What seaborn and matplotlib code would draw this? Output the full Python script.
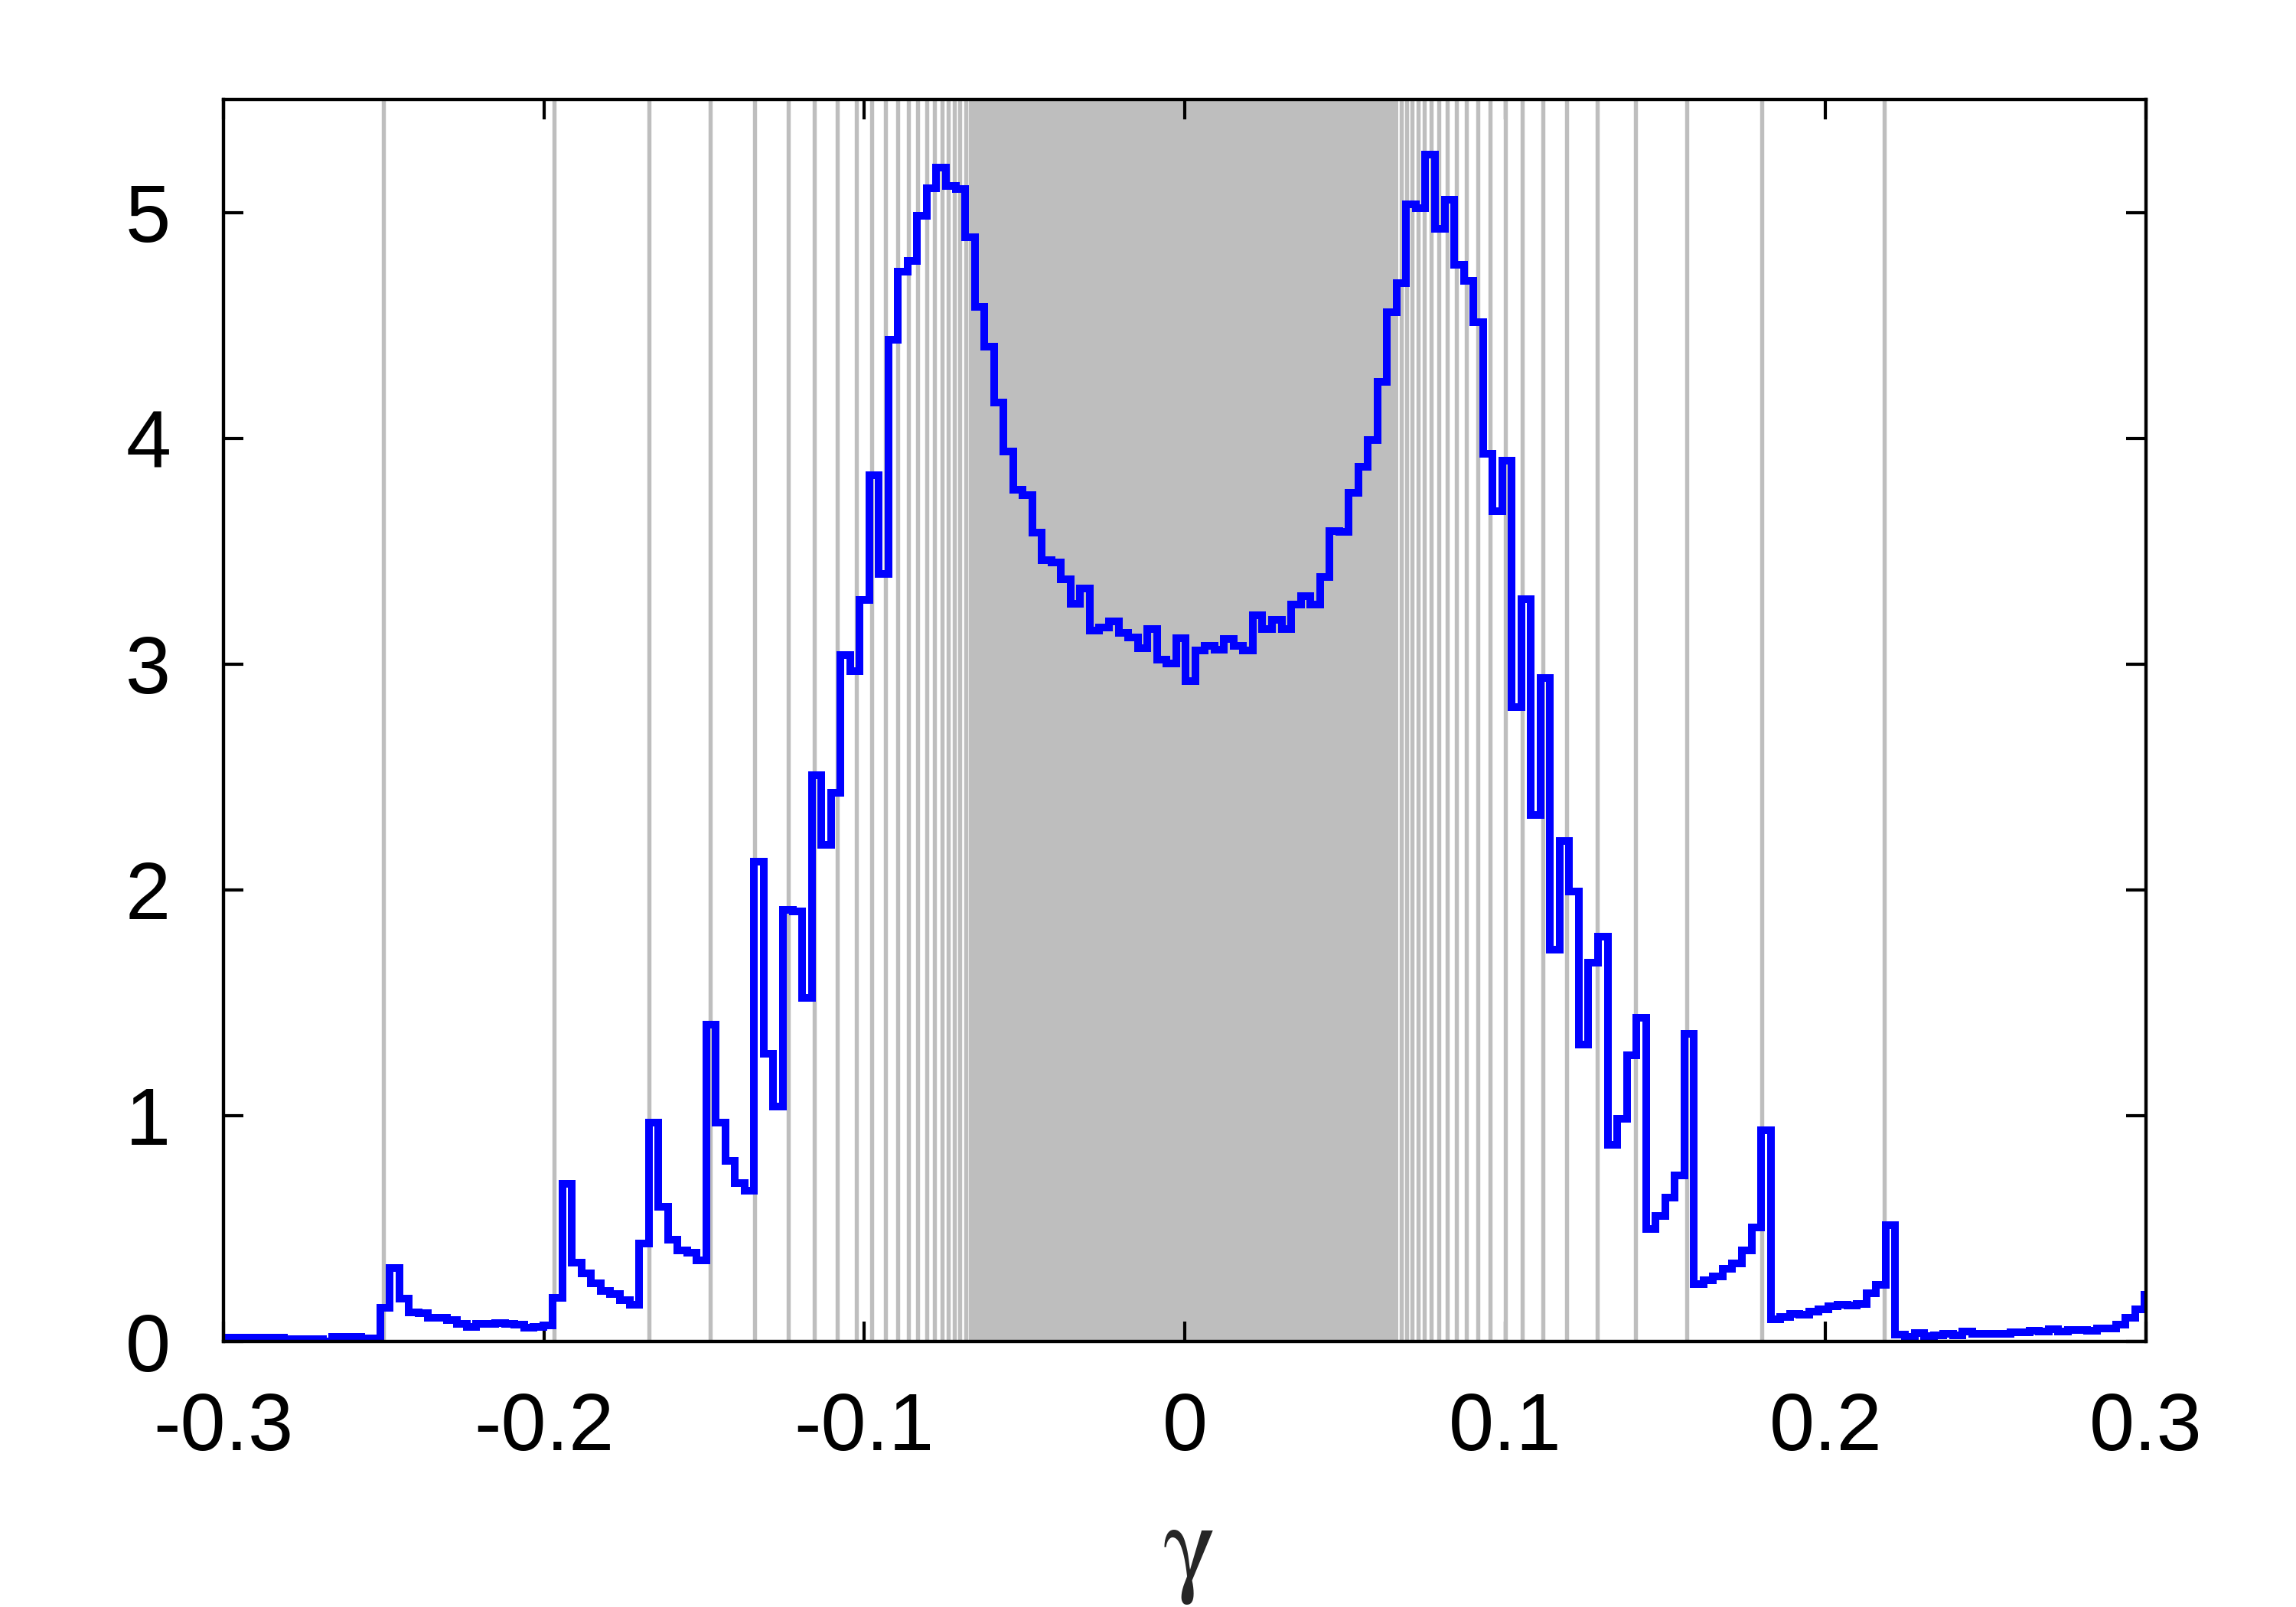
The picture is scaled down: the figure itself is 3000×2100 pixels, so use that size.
import numpy as np
import pandas as pd
import seaborn as sns
import matplotlib
matplotlib.use("Agg")
import matplotlib.pyplot as plt

# Histogram heights, one per bin (the first and last bins are cut by the axis edges)
density = [
    0.016, 0.016, 0.016, 0.016, 0.016, 0.016, 0.016, 0.012, 0.012, 0.012,
    0.012, 0.0, 0.021, 0.021, 0.021, 0.015, 0.015, 0.15, 0.326, 0.19,
    0.128, 0.126, 0.106, 0.104, 0.094, 0.077, 0.066, 0.079, 0.078, 0.082,
    0.077, 0.075, 0.06, 0.066, 0.071, 0.194, 0.698, 0.348, 0.303, 0.258,
    0.224, 0.212, 0.184, 0.162, 0.433, 0.969, 0.596, 0.45, 0.405, 0.393,
    0.359, 1.404, 0.97, 0.80, 0.703, 0.667, 2.124, 1.273, 1.04, 1.91,
    1.903, 1.523, 2.509, 2.20, 2.431, 3.04, 2.968, 3.285, 3.836, 3.40,
    4.437, 4.736, 4.785, 4.984, 5.106, 5.20, 5.118, 5.102, 4.89, 4.58,
    4.404, 4.157, 3.941, 3.771, 3.748, 3.582, 3.461, 3.45, 3.375, 3.268,
    3.336, 3.149, 3.161, 3.189, 3.138, 3.118, 3.07, 3.155, 3.019, 3.002,
    3.115, 2.923, 3.059, 3.082, 3.065, 3.11, 3.082, 3.059, 3.217, 3.155,
    3.195, 3.155, 3.262, 3.302, 3.262, 3.387, 3.59, 3.585, 3.759, 3.872,
    3.991, 4.248, 4.558, 4.687, 5.035, 5.02, 5.257, 4.928, 5.057, 4.767,
    4.697, 4.513, 3.93, 3.677, 3.9, 2.809, 3.287, 2.33, 2.937, 1.735,
    2.218, 1.992, 1.315, 1.677, 1.794, 0.872, 0.988, 1.268, 1.432, 0.498,
    0.557, 0.638, 0.736, 1.362, 0.253, 0.272, 0.288, 0.323, 0.347, 0.405,
    0.505, 0.935, 0.10, 0.11, 0.123, 0.119, 0.132, 0.143, 0.155, 0.163,
    0.158, 0.167, 0.215, 0.252, 0.514, 0.032, 0.02, 0.037, 0.024, 0.027,
    0.035, 0.029, 0.043, 0.035, 0.035, 0.034, 0.034, 0.04, 0.04, 0.049,
    0.043, 0.054, 0.045, 0.052, 0.052, 0.049, 0.058, 0.057, 0.074, 0.105,
    0.141, 0.207,
]
bin_lo, bin_hi = -0.29895, 0.29955
x_min, x_max = -0.3, 0.3
y_min, y_max = 0, 5.5

# gray marker lines, and the band where they pile up
left_lines = [-0.2500, -0.1967, -0.1673, -0.1481, -0.1343, -0.1238, -0.1155,
              -0.1085, -0.1025, -0.0977, -0.0934, -0.0896, -0.0862, -0.0834,
              -0.0805, -0.0781, -0.0757, -0.0737, -0.0719, -0.0701, -0.0684,
              -0.0668]
right_lines = [0.0676, 0.0693, 0.0709, 0.0729, 0.0748, 0.0769, 0.0792, 0.0819,
               0.0848, 0.0878, 0.0914, 0.0953, 0.1001, 0.1054, 0.1118, 0.1192,
               0.1288, 0.1407, 0.1567, 0.1801, 0.2183]
band = (-0.0661, 0.0667)

x_ticks = [-0.3, -0.2, -0.1, 0, 0.1, 0.2, 0.3]
x_tick_labels = ["-0.3", "-0.2", "-0.1", "0", "0.1", "0.2", "0.3"]
y_ticks = [0, 1, 2, 3, 4, 5]

edges = np.concatenate([[x_min], np.linspace(bin_lo, bin_hi, len(density) - 1), [x_max]])
centers = (edges[:-1] + edges[1:]) / 2
df = pd.DataFrame({"gamma": centers, "density": density})

sns.set_style("ticks")
plt.rcParams["font.family"] = ["Liberation Sans", "DejaVu Sans"]

fig = plt.figure(figsize=(10, 7), dpi=300)
ax = fig.add_axes([0.0973, 0.1652, 0.8374, 0.7729])

gray = "#bebebe"
ax.axvspan(band[0], band[1], color=gray, lw=0, zorder=0)
for g in left_lines + right_lines:
    ax.axvline(g, color=gray, lw=1.3, zorder=1)

n_before = len(ax.lines)
sns.histplot(data=df, x="gamma", weights="density", bins=edges.tolist(),
             element="step", fill=False, color="#0000ff", linewidth=2.4,
             ax=ax, zorder=3)
# heavy gnuplot-like outline
for line in ax.lines[n_before:]:
    line.set_linewidth(2.4)
    line.set_color("#0000ff")
    line.set_alpha(1.0)
    line.set_solid_joinstyle("miter")

ax.set_xlim(x_min, x_max)
ax.set_ylim(y_min, y_max)
ax.set_xlabel("")
ax.set_ylabel("")
ax.set_xticks(x_ticks)
ax.set_xticklabels(x_tick_labels)
ax.set_yticks(y_ticks)
ax.set_yticklabels([str(v) for v in y_ticks])
ax.tick_params(direction="in", length=6.2, width=1.0, top=True, right=True,
               labelsize=25.5, colors="black")
ax.tick_params(axis="x", pad=15.5)
ax.tick_params(axis="y", pad=16.5)
for side in ["left", "right", "top", "bottom"]:
    ax.spines[side].set_visible(True)
    ax.spines[side].set_linewidth(1.05)
    ax.spines[side].set_color("black")
    ax.spines[side].set_zorder(5)

fig.text(0.518, 0.0167, "γ", family=["STIXGeneral", "Liberation Serif", "DejaVu Serif"],
         size=35, ha="center", va="baseline")

fig.savefig("out.png", dpi=300, facecolor="white")
